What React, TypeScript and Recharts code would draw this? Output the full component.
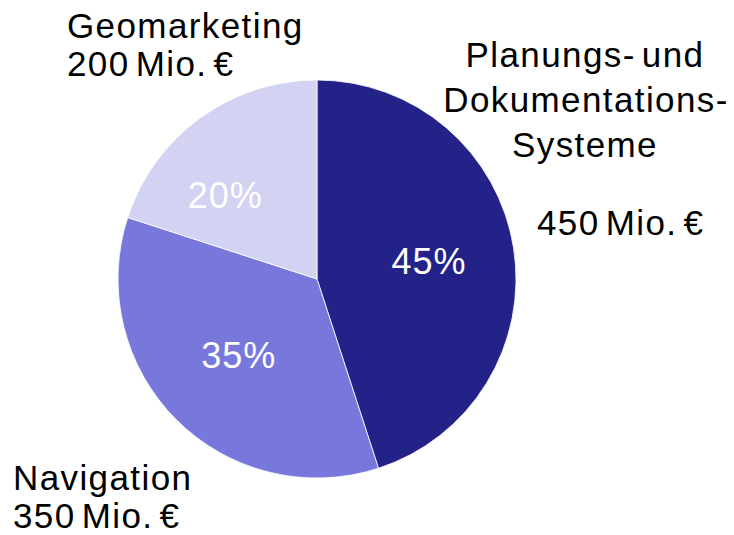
import { PieChart, Pie, Cell, Customized } from 'recharts';

const categories = ['Planungs- und Dokumentations-Systeme', 'Navigation', 'Geomarketing'];
const values = [450, 350, 200];
const amountLabels = ['450 Mio. €', '350 Mio. €', '200 Mio. €'];
const colors = ['#222288', '#7878dc', '#d2d2f2'];

const chartData = categories.map((name, i) => ({ name, value: values[i] }));

const RADIAN = Math.PI / 180;
const FONT = '"Liberation Sans", Arial, sans-serif';

// small shifts so the percentages sit where the original put them
const pctNudge = [
  { dx: 0, dy: 0 },
  { dx: 2, dy: -4 },
  { dx: -25, dy: 8 },
];

const renderPercent = (props: any) => {
  const { cx, cy, midAngle, outerRadius, percent, index } = props;
  const r = outerRadius * 0.57;
  const x = cx + r * Math.cos(-midAngle * RADIAN) + pctNudge[index].dx;
  const y = cy + r * Math.sin(-midAngle * RADIAN) + pctNudge[index].dy;
  return (
    <text
      x={x}
      y={y}
      fill="#fff"
      textAnchor="middle"
      dominantBaseline="central"
      fontSize={36}
      letterSpacing={1}
      fontFamily={FONT}
    >
      {`${Math.round(percent * 100)}%`}
    </text>
  );
};

const CategoryLabels = () => (
  <g fontFamily={FONT} fontSize={35} fill="#000" letterSpacing={1.4} wordSpacing={-5}>
    <text x={585} y={67} textAnchor="middle">Planungs- und</text>
    <text x={586} y={112} textAnchor="middle">Dokumentations-</text>
    <text x={585} y={157} textAnchor="middle">Systeme</text>
    <text x={537} y={235}>{amountLabels[0]}</text>

    <text x={13} y={490}>{categories[1]}</text>
    <text x={13} y={528}>{amountLabels[1]}</text>

    <text x={67} y={38}>{categories[2]}</text>
    <text x={67} y={76}>{amountLabels[2]}</text>
  </g>
);

export default function App() {
  return (
    <div style={{ position: 'absolute', left: 0, top: 0, width: 734, height: 535, background: '#fff' }}>
      <PieChart width={734} height={535}>
        <Pie
          data={chartData}
          dataKey="value"
          cx={312}
          cy={274}
          outerRadius={199}
          startAngle={90}
          endAngle={-270}
          stroke="#ffffff"
          strokeWidth={0.8}
          label={renderPercent}
          labelLine={false}
          isAnimationActive={false}
        >
          {chartData.map((entry, index) => (
            <Cell key={`cell-${index}`} fill={colors[index]} />
          ))}
        </Pie>
        <Customized component={CategoryLabels} />
      </PieChart>
    </div>
  );
}
